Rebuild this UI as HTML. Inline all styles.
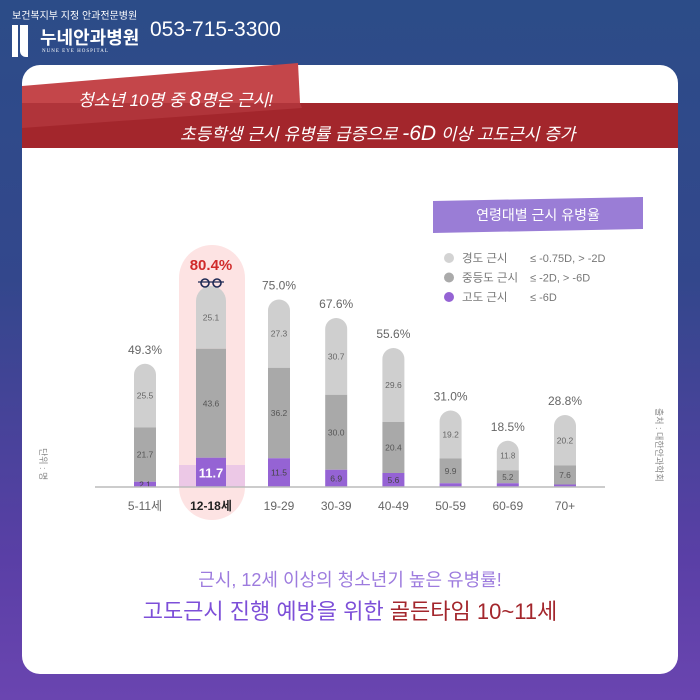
<!DOCTYPE html>
<html><head><meta charset="utf-8"><style>
body{margin:0;width:700px;height:700px;overflow:hidden;font-family:"Liberation Sans","Noto Sans CJK KR",sans-serif;}
#bg{position:absolute;left:0;top:0;width:700px;height:700px;background:linear-gradient(180deg,#2c4c88 0%,#33478c 40%,#5a3fa6 80%,#6a45b0 100%);}
.t{position:absolute;white-space:nowrap;}
</style></head><body>
<div id="bg"></div>
<div class="t" style="left:12px;top:7px;font-size:10px;color:#fff;">보건복지부 지정 안과전문병원</div>
<div style="position:absolute;left:12px;top:25px;width:6px;height:32px;background:#fff;"></div>
<div style="position:absolute;left:20px;top:25px;width:8px;height:32px;background:#fff;border-radius:0 0 0 6px;"></div>
<div class="t" style="left:40px;top:24px;font-size:18px;font-weight:bold;color:#fff;">누네안과병원</div>
<div class="t" style="left:42px;top:49px;font-size:5px;letter-spacing:1px;color:#fff;font-family:'Liberation Serif',serif;">NUNE EYE HOSPITAL</div>
<div class="t" style="left:150px;top:18px;font-size:21px;color:#fff;">053-715-3300</div>
<div style="position:absolute;left:22px;top:65px;width:656px;height:609px;background:#fff;border-radius:18px;"></div>
<svg style="position:absolute;left:0;top:0" width="700" height="700">
<rect x="22" y="103" width="656" height="45" fill="#a3262c"/>
<polygon points="22,86 298,63 300,103 22,103" fill="#c4464a"/>
<polygon points="22,103 300,103 302,108 22,128" fill="#b53a40" opacity="0.7"/>
</svg>
<div class="t" style="left:78px;top:86px;font-size:17px;color:#fff;font-style:italic;">청소년 10명 중 <span style="font-size:21px">8</span>명은 근시!</div>
<div class="t" style="left:180px;top:120px;font-size:17px;color:#fff;font-style:italic;">초등학생 근시 유병률 급증으로 <span style="font-size:21px">-6D</span> 이상 고도근시 증가</div>
<svg id="chart" style="position:absolute;left:0;top:0" width="700" height="700"></svg>
<div class="t" style="left:0;width:700px;text-align:center;top:566px;font-size:18px;color:#9d7bde;">근시, 12세 이상의 청소년기 높은 유병률!</div>
<div class="t" style="left:0;width:700px;text-align:center;top:594px;font-size:22px;color:#7d4fd8;">고도근시 진행 예방을 위한 <span style="color:#a3262c">골든타임 10~11세</span></div>
<script>
const categories=["5-11세","12-18세","19-29","30-39","40-49","50-59","60-69","70+"];
const high=[2.1,11.7,11.5,6.9,5.6,1.5,1.5,1.0];
const moderate=[21.7,43.6,36.2,30.0,20.4,9.9,5.2,7.6];
const mild=[25.5,25.1,27.3,30.7,29.6,19.2,11.8,20.2];
const totals=["49.3%","80.4%","75.0%","67.6%","55.6%","31.0%","18.5%","28.8%"];
const highLabels=["2.1","11.7","11.5","6.9","5.6","","",""];
const legendNames=["경도 근시","중등도 근시","고도 근시"];
const legendRanges=["≤ -0.75D, > -2D","≤ -2D, > -6D","≤ -6D"];
const svg=document.getElementById('chart');const NS='http://www.w3.org/2000/svg';
const base=487,scale=2.5,hl=1;
const xc=i=>i===0?145:(i===1?211:279+(i-2)*57.2);
const bw=i=>i===hl?30:22;
const y=v=>base-v*scale;
function mk(t,a){const e=document.createElementNS(NS,t);for(const k in a)e.setAttribute(k,a[k]);svg.appendChild(e);return e;}
function tx(x,yy,s,size,fill,weight){const e=mk('text',{x:x,y:yy,'font-size':size,fill:fill,'text-anchor':'middle','font-weight':weight||'normal'});e.textContent=s;return e;}
let h=mk('rect',{x:179,y:245,width:66,height:275,rx:33,fill:'#fde3e3'});


let hb=mk('rect',{x:179,y:465,width:66,height:22,fill:'#ecc8e6'});


categories.forEach((c,i)=>{
 const w=bw(i),x=xc(i)-w/2;const t=high[i]+moderate[i]+mild[i];
 const top=y(t),r=w/2;
 let p=mk('path',{d:`M${x},${y(high[i]+moderate[i])} L${x},${top+r} A${r},${r} 0 0 1 ${x+w},${top+r} L${x+w},${y(high[i]+moderate[i])} Z`,fill:'#cfcfcf'});
 
 
 let m=mk('rect',{x:x,y:y(high[i]+moderate[i]),width:w,height:moderate[i]*scale,fill:'#a9a9a9'});
 
 
 let hh=mk('rect',{x:x,y:y(high[i]),width:w,height:high[i]*scale,fill:'#9563d4'});
 
 
 const fs=i===6?8:8.5;
 tx(xc(i),y(high[i]+moderate[i]+mild[i]/2)+3,mild[i].toFixed(1),fs,'#666');
 tx(xc(i),y(high[i]+moderate[i]/2)+3,moderate[i].toFixed(1),fs,'#555');
 if(highLabels[i])tx(xc(i),y(high[i]/2)+(i===1?5:3),highLabels[i],i===1?13:8.5,i===1?'#fff':'#444',i===1?'bold':'normal');
 const tt=tx(xc(i),i===1?270:top-10,totals[i],i===1?15:12,i===1?'#d02a2a':'#666',i===1?'bold':'normal');
 
 
 const cl=tx(xc(i),510,c,12,i===1?'#222':'#666',i===1?'bold':'normal');
 
 
});
let ax=mk('line',{x1:95,x2:605,y1:base,y2:base,stroke:'#bbb','stroke-width':1.5});


mk('circle',{cx:205,cy:283,r:4,fill:'none',stroke:'#1e2a55','stroke-width':1.6});
mk('circle',{cx:217,cy:283,r:4,fill:'none',stroke:'#1e2a55','stroke-width':1.6});
mk('line',{x1:198,x2:224,y1:282,y2:282,stroke:'#1e2a55','stroke-width':1.2});
let lb=mk('polygon',{points:'433,201 643,197 643,229 433,233',fill:'#9a7dd6'});


tx(538,220,'연령대별 근시 유병율',14,'#fff');
const lc=['#d3d3d3','#aaaaaa','#9563d4'];
legendNames.forEach((n,i)=>{const yy=258+i*19.5;
 let c=mk('circle',{cx:449,cy:yy,r:5,fill:lc[i]});
 
 
 let a=mk('text',{x:462,y:yy+4,'font-size':11.5,fill:'#777'});a.textContent=n;
 let b=mk('text',{x:530,y:yy+4,'font-size':11,fill:'#777'});b.textContent=legendRanges[i];
});
let u=mk('text',{x:0,y:0,'font-size':9,fill:'#888',transform:'translate(40,448) rotate(90)'});u.textContent='단위 : 명';


let s=mk('text',{x:0,y:0,'font-size':9,fill:'#888',transform:'translate(656,408) rotate(90)'});s.textContent='출처 : 대한안과학회';


</script>
</body></html>
